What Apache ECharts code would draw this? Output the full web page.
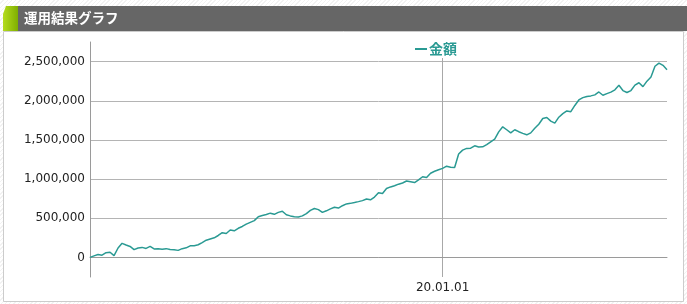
<!DOCTYPE html>
<html>
<head>
<meta charset="utf-8">
<script src="https://cdn.jsdelivr.net/npm/echarts@6/dist/echarts.min.js"></script>
<style>
html,body{margin:0;padding:0;width:687px;height:304px;overflow:hidden;
background:repeating-linear-gradient(135deg,#ffffff 0px,#ffffff 2px,#f2f2f2 2px,#f2f2f2 3px);}
#chart{width:687px;height:304px;}
</style>
</head>
<body>
<div id="chart"></div>
<script>
// ---- data ----
const chartTitle = '運用結果グラフ';
const seriesName = '金額';
const markedDate = '20.01.01';
// weekly values, in yen
const amounts = [
  0, 20000, 38000, 28000, 60000, 66000, 22000, 120000, 180000, 158000,
  140000, 100000, 120000, 128000, 115000, 140000, 108000, 110000, 105000, 112000,
  100000, 98000, 90000, 112000, 122000, 148000, 150000, 162000, 190000, 220000,
  235000, 250000, 280000, 315000, 305000, 350000, 340000, 372000, 395000, 425000,
  448000, 470000, 520000, 535000, 548000, 565000, 550000, 575000, 590000, 545000,
  530000, 520000, 515000, 530000, 560000, 600000, 625000, 610000, 575000, 595000,
  620000, 640000, 630000, 660000, 683000, 690000, 700000, 712000, 725000, 745000,
  735000, 770000, 825000, 815000, 880000, 900000, 915000, 935000, 950000, 975000,
  965000, 955000, 990000, 1030000, 1020000, 1075000, 1100000, 1120000, 1137000, 1165000,
  1150000, 1148000, 1320000, 1370000, 1392000, 1395000, 1425000, 1410000, 1412000, 1440000,
  1476000, 1510000, 1603000, 1667000, 1630000, 1590000, 1630000, 1605000, 1583000, 1565000,
  1590000, 1650000, 1700000, 1773000, 1786000, 1740000, 1715000, 1790000, 1835000, 1870000,
  1860000, 1940000, 2010000, 2040000, 2055000, 2062000, 2075000, 2112000, 2070000, 2091000,
  2110000, 2140000, 2197000, 2130000, 2105000, 2130000, 2200000, 2230000, 2180000, 2250000,
  2303000, 2440000, 2481000, 2452000, 2397000
];
// weekly dates (yy.mm.dd); index of markedDate = 88
const markedIndex = 88;
const dates = [];
for (let i = 0; i < amounts.length; i++) {
  const d = new Date(Date.UTC(2020, 0, 1) + (i - markedIndex) * 7 * 86400000);
  const yy = String(d.getUTCFullYear()).slice(2);
  const mm = String(d.getUTCMonth() + 1).padStart(2, '0');
  const dd = String(d.getUTCDate()).padStart(2, '0');
  dates.push(yy + '.' + mm + '.' + dd);
}
const yMin = -250000, yMax = 2750000, yStep = 250000, yLabelStep = 500000;

// ---- chart ----
const teal = '#2a9a93';
const chart = echarts.init(document.getElementById('chart'));
chart.setOption({
  animation: false,
  backgroundColor: 'transparent',
  graphic: [
    { type: 'rect', z: -10, shape: { x: 3.5, y: 31.5, width: 680, height: 270 },
      style: { fill: '#fff', stroke: '#cccccc', lineWidth: 1 } },
    { type: 'rect', z: -9, shape: { x: 18, y: 6, width: 669, height: 25 },
      style: { fill: '#666666' } },
    { type: 'polygon', z: -9, shape: { points: [[6, 6], [18, 6], [18, 31], [3, 31], [3, 14]] },
      style: { fill: new echarts.graphic.LinearGradient(0, 0, 1, 0, [
        { offset: 0, color: '#b4dc1e' }, { offset: 1, color: '#7fae00' }]) } }
  ],
  title: {
    text: chartTitle, left: 24, top: 11, padding: 0,
    textStyle: { color: '#fff', fontSize: 13.5, fontWeight: 'bold',
      fontFamily: '"Noto Sans CJK JP", sans-serif' }
  },
  legend: {
    data: [seriesName], left: 413, top: 40, padding: [2, 2, 2, 2],
    backgroundColor: '#fff',
    icon: 'rect', itemWidth: 12, itemHeight: 2, itemGap: 0,
    textStyle: { color: teal, fontSize: 14, fontWeight: 'bold',
      fontFamily: '"Noto Sans CJK JP", sans-serif', padding: [0, 0, 0, -3] }
  },
  grid: { left: 90, right: 20, top: 42, bottom: 27, containLabel: false },
  xAxis: {
    type: 'category', data: dates, boundaryGap: false,
    axisLine: { lineStyle: { color: '#9a9a9a', width: 1 } },
    axisTick: { show: false },
    axisLabel: {
      interval: (i, v) => v === markedDate,
      color: '#222', fontSize: 12, fontFamily: '"DejaVu Sans", sans-serif', margin: 5
    },
    splitLine: { show: true, interval: (i, v) => v === markedDate,
      lineStyle: { color: '#a8a8a8', width: 1 } }
  },
  yAxis: {
    type: 'value', min: yMin, max: yMax, interval: yStep,
    axisLine: { show: true, lineStyle: { color: '#9a9a9a', width: 1 } },
    axisTick: { show: false },
    axisLabel: {
      color: '#222', fontSize: 12, fontFamily: '"DejaVu Sans", sans-serif', margin: 5,
      formatter: v => (v >= 0 && v % yLabelStep === 0 && v <= 2500000) ? v.toLocaleString('en-US') : ''
    },
    splitLine: { show: true, showMinLine: true, showMaxLine: true,
      lineStyle: { color: ['rgba(0,0,0,0)', '#b4b4b4'], width: 1 } }
  },
  series: [{
    name: seriesName, type: 'line', data: amounts, showSymbol: false, symbol: 'none',
    lineStyle: { color: teal, width: 1.5 }, itemStyle: { color: teal }
  }]
});
</script>
</body>
</html>
